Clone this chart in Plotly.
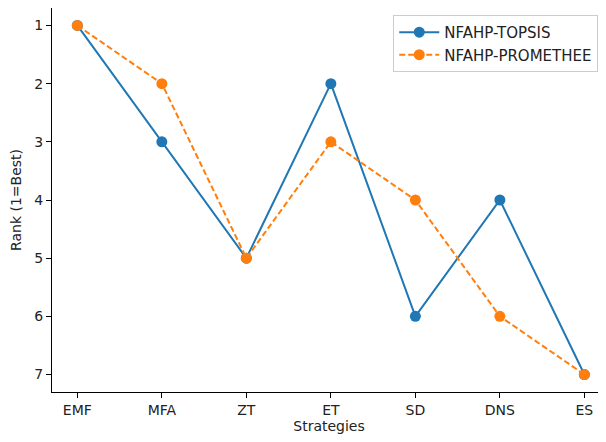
import plotly.graph_objects as go

strategies = ["EMF", "MFA", "ZT", "ET", "SD", "DNS", "ES"]
topsis_rank = [1, 3, 5, 2, 6, 4, 7]
promethee_rank = [1, 2, 5, 3, 4, 6, 7]

blue = "#1f77b4"
orange = "#ff7f0e"
font = "DejaVu Sans"

fig = go.Figure()
fig.add_trace(go.Scatter(
    x=list(range(len(strategies))), y=topsis_rank, mode="lines+markers",
    name="NFAHP-TOPSIS", line=dict(color=blue, width=2),
    marker=dict(color=blue, size=11)))
fig.add_trace(go.Scatter(
    x=list(range(len(strategies))), y=promethee_rank, mode="lines+markers",
    name="NFAHP-PROMETHEE", line=dict(color=orange, width=2, dash="6px,3px"),
    marker=dict(color=orange, size=11)))

# page body has a default 8px margin, so the figure is sized to compensate
fig.update_layout(
    width=598, height=434,
    margin=dict(l=44, r=0, t=0, b=50),
    paper_bgcolor="white", plot_bgcolor="white",
    font=dict(family=font, size=14, color="#222"),
    legend=dict(x=0.616, y=0.982, xanchor="left", yanchor="top",
                bordercolor="#cccccc", borderwidth=1, bgcolor="white",
                font=dict(size=15), tracegroupgap=0, itemwidth=40),
    showlegend=True,
)
fig.update_xaxes(
    range=[-0.3, 6.256], tickmode="array",
    tickvals=list(range(len(strategies))), ticktext=strategies,
    showgrid=False, zeroline=False, showline=True, linecolor="black",
    linewidth=1.2, mirror=True, ticks="outside", ticklen=5, tickcolor="black",
    title=dict(text="Strategies", font=dict(size=14), standoff=2),
)
fig.update_yaxes(
    range=[7.3, 0.7], tickmode="array", tickvals=[1, 2, 3, 4, 5, 6, 7],
    showgrid=False, zeroline=False, showline=True, linecolor="black",
    linewidth=1.2, ticks="outside", ticklen=5, tickcolor="black",
    title=dict(text="Rank (1=Best)", font=dict(size=14), standoff=10),
)

fig.write_html("out.html")
